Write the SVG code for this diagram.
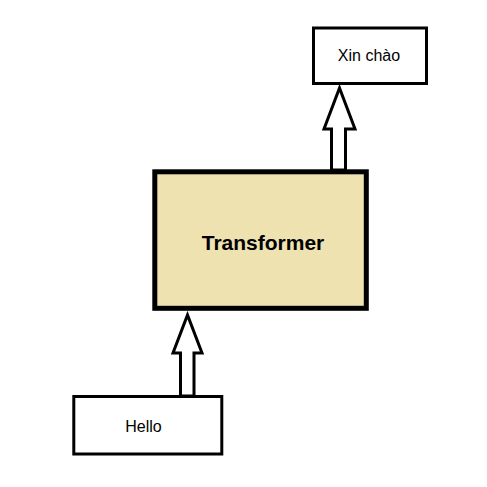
<svg xmlns="http://www.w3.org/2000/svg" width="487" height="487" viewBox="0 0 487 487">
<style>
.box{fill:#fff;stroke:#000;stroke-width:3}
.arrow{fill:#fff;stroke:#000;stroke-width:3;stroke-linejoin:miter}
.lbl{font-family:"Liberation Sans",Arial,sans-serif;font-size:16px;fill:#000;text-anchor:middle}
</style>
<rect width="487" height="487" fill="#fff"/>
<g id="connectors">
<polygon class="arrow" points="331.5,170 331.5,129 324,129 339.5,88 355,129 345.5,129 345.5,170"/>
<polygon class="arrow" points="180.5,396 180.5,353 173,353 187.5,315 202,353 194,353 194,396"/>
</g>
<g id="xinchao">
<rect class="box" x="313.5" y="28" width="113" height="55.5"/>
<text class="lbl" x="369" y="60.5">Xin chào</text>
</g>
<g id="transformer">
<rect x="154.8" y="171.8" width="211.5" height="136.5" fill="#EFE2B1" stroke="#000" stroke-width="5"/>
<text x="263" y="250" font-family="'Liberation Sans',Arial,sans-serif" font-size="21" font-weight="bold" text-anchor="middle">Transformer</text>
</g>
<g id="hello">
<rect class="box" x="73.8" y="396.5" width="148" height="57.5"/>
<text class="lbl" x="143.5" y="431.5">Hello</text>
</g>
</svg>
